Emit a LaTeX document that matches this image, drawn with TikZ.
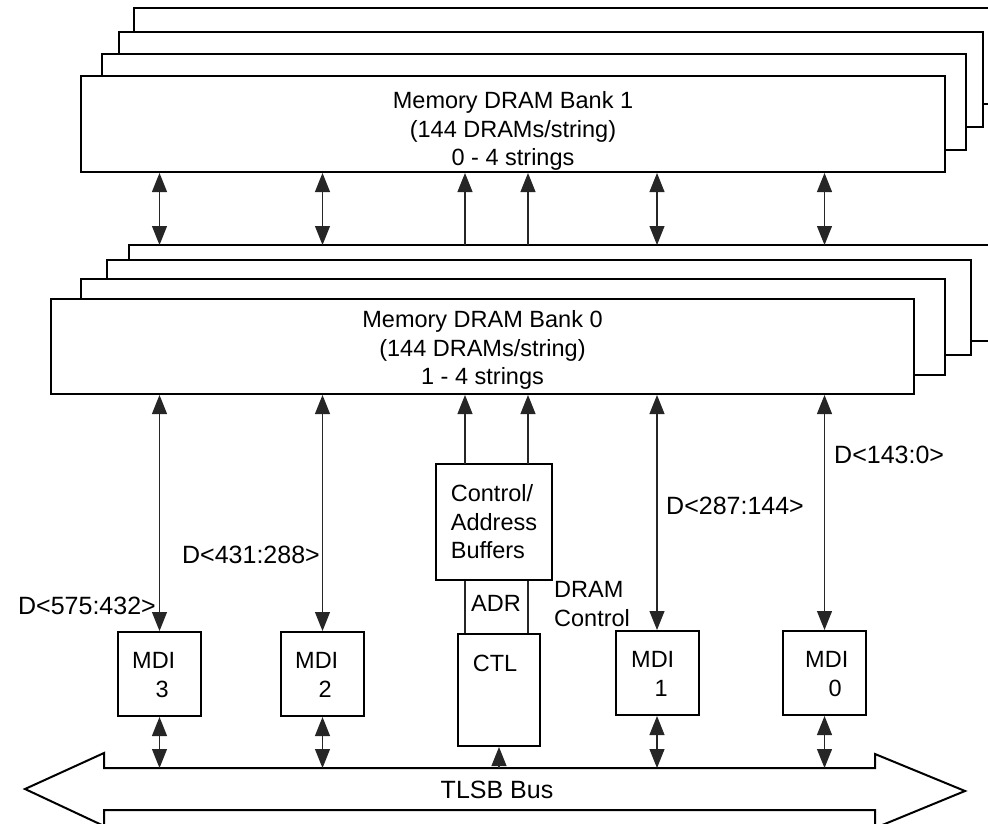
\documentclass[tikz,border=0pt]{standalone}
\usepackage{fontspec}
\setmainfont{Liberation Sans}
\usetikzlibrary{arrows.meta}
\begin{document}
\begin{tikzpicture}[x=1pt,y=-1pt,
  every node/.style={font=\fontsize{23.5}{28.5}\selectfont, inner sep=0pt},
  lbl/.style={font=\fontsize{25}{28.5}\selectfont},
  layer/.style={draw, line width=2pt, fill=white},
  box/.style={draw, line width=2pt, fill=white},
  conn/.style={line width=1.1pt, draw=black!85},
  uni/.style={conn, -{Triangle[width=15pt,length=19pt]}},
  bi/.style={conn, {Triangle[width=15pt,length=19pt]}-{Triangle[width=15pt,length=19pt]}},
]
\useasboundingbox (0,0) rectangle (988,824);

% Bank 1 stack
\draw[layer] (988,8) -- (134,8) -- (134,104) -- (988,104);
\draw[layer] (119,32) rectangle (983,127);
\draw[layer] (102,54) rectangle (966,150);
\node[box, minimum width=864pt, minimum height=96pt] (bank1) at (513,124) {};
\node[align=center] (bank1t) at (513,131)
  {Memory DRAM Bank 1\\(144 DRAMs/string)\\0 - 4 strings};

% Bank 0 stack
\draw[layer] (988,245) -- (129,245) -- (129,341) -- (988,341);
\draw[layer] (107,260) rectangle (971,355);
\draw[layer] (81,279) rectangle (945,375);
\node[box, minimum width=863pt, minimum height=95pt] (bank0) at (482.5,346.5) {};
\node[align=center] (bank0t) at (482.5,350)
  {Memory DRAM Bank 0\\(144 DRAMs/string)\\1 - 4 strings};
\coordinate (s0) at (129,245);

% Boxes
\node[box, minimum width=83pt, minimum height=84pt] (m3) at (159.5,674) {};
\node[box, minimum width=83pt, minimum height=84pt] (m2) at (322.5,674) {};
\node[box, minimum width=83pt, minimum height=84pt] (m1) at (657,673) {};
\node[box, minimum width=83pt, minimum height=84pt] (m0) at (824.5,673) {};
\node[box, minimum width=82pt, minimum height=112pt] (ctl) at (499,690) {};
\node[box, minimum width=116pt, minimum height=116pt, align=left] (buf) at (494,522)
  {Control/\\Address\\Buffers};

% Box texts
\node[anchor=west, align=left] (t3) at (132,675) {MDI\\\hspace*{1em}3};
\node[anchor=west, align=left] (t2) at (295,675) {MDI\\\hspace*{1em}2};
\node[anchor=west, align=left] (t1) at (631,674) {MDI\\\hspace*{1em}1};
\node[anchor=west, align=left] (t0) at (805,674) {MDI\\\hspace*{1em}0};
\node (tctl) at (495,663) {CTL};

% Bus
\draw[line width=2pt, fill=white] (104,753) -- (104,768) -- (875,768) -- (875,754)
  -- (965,791) -- (875,828) -- (875,810) -- (104,810) -- (104,826) -- (25,789) -- cycle;
\node[lbl] (bus) at (497,790) {TLSB Bus};
\coordinate (bustop) at (0,768);

% Buffer line positions
\coordinate (bA) at (465,464);
\coordinate (bB) at (528,464);

% Between banks
\foreach \m in {m3,m2,m1,m0}
  \draw[bi] (bank1.south -| \m.north) -- (s0 -| \m.north);
\draw[uni] (s0 -| bA) -- (bank1.south -| bA);
\draw[uni] (s0 -| bB) -- (bank1.south -| bB);

% Bank 0 to MDIs
\foreach \m in {m3,m2,m1,m0}
  \draw[bi] (bank0.south -| \m.north) -- (\m.north);
\draw[uni] (bA) -- (bA |- bank0.south);
\draw[uni] (bB) -- (bB |- bank0.south);
\draw[conn] (bA |- buf.south) -- (bA |- ctl.north);
\draw[conn] (bB |- buf.south) -- (bB |- ctl.north);

% MDIs to bus
\foreach \m in {m3,m2,m1,m0}
  \draw[bi] (\m.south) -- (\m.south |- bustop);
\draw[uni] (ctl.south |- bustop) -- (ctl.south);

% Labels
\node[lbl, anchor=east] (l3) at (156,606) {D<575:432>};
\node[lbl, anchor=east] (l2) at (320,555) {D<431:288>};
\node[lbl, anchor=west] (l1) at (666,506) {D<287:144>};
\node[lbl, anchor=west] (l0) at (834,455) {D<143:0>};
\node (adr) at (496,603) {ADR};
\node[anchor=west, align=left] (dc) at (554,604) {DRAM\\Control};
\end{tikzpicture}
\end{document}
